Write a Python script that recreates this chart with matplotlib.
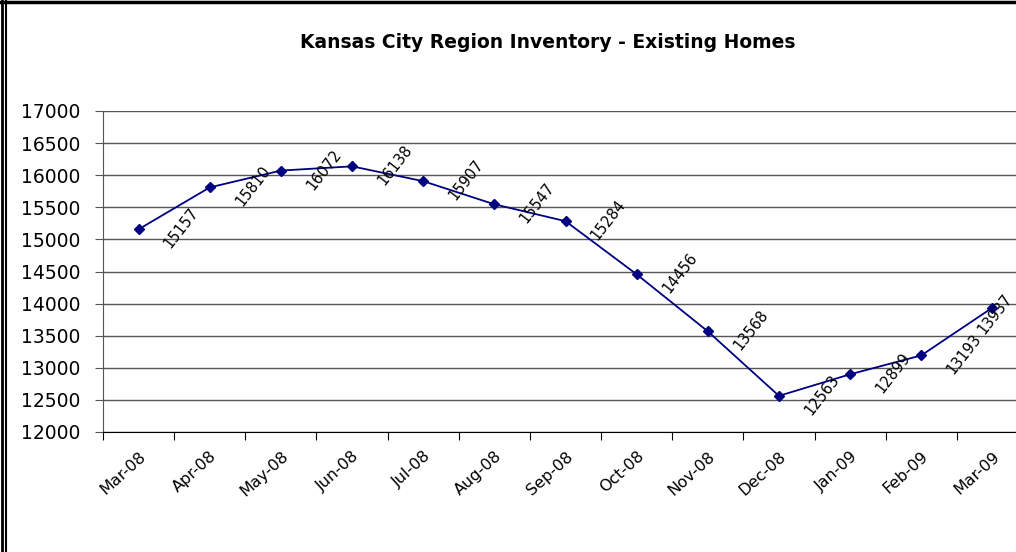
import matplotlib.pyplot as plt
import matplotlib.transforms as mtransforms
from matplotlib.lines import Line2D

plt.rcParams['font.family'] = ['DejaVu Sans']

months = ['Mar-08', 'Apr-08', 'May-08', 'Jun-08', 'Jul-08', 'Aug-08', 'Sep-08',
          'Oct-08', 'Nov-08', 'Dec-08', 'Jan-09', 'Feb-09', 'Mar-09']
inventory = [15157, 15810, 16072, 16138, 15907, 15547, 15284,
             14456, 13568, 12563, 12899, 13193, 13937]
y_ticks = list(range(12000, 17001, 500))

W, H = 1016, 552
fig = plt.figure(figsize=(W / 100, H / 100), dpi=100)
# plot area runs past the right edge of the picture, like the cropped original
left, right, bottom, top = 103, 1028, 432, 111
ax = fig.add_axes([left / W, 1 - bottom / H, (right - left) / W, (bottom - top) / H])

x = list(range(len(months)))
ax.plot(x, inventory, color='#000080', lw=1.3, marker='D', ms=5,
        mfc='#000080', mec='#000080', zorder=3)

for i, v in enumerate(inventory):
    dx, dy = (43, 1) if i < len(months) - 1 else (3, -6)
    ax.annotate(str(v), (i, v), xytext=(dx, dy), textcoords='offset pixels',
                rotation=52, ha='center', va='center', fontsize=10.5, color='black')

ax.set_xlim(-0.5, len(months) - 0.5)
ax.set_ylim(12000, 17000)
ax.set_yticks(y_ticks)
ax.set_yticklabels([str(t) for t in y_ticks], fontsize=13.5)
ax.yaxis.grid(True, color='#555555', lw=1)
ax.set_axisbelow(True)

# category ticks sit between the months, labels at the centres
ax.set_xticks([i - 0.5 for i in range(len(months) + 1)])
ax.set_xticklabels([])
ax.set_xticks(x, minor=True)
ax.set_xticklabels(months, minor=True, rotation=42, ha='right', va='top',
                   rotation_mode='anchor', fontsize=11.5)
shift = mtransforms.ScaledTranslation(-6 / 100, 0, fig.dpi_scale_trans)
for lbl in ax.get_xticklabels(minor=True):
    lbl.set_transform(lbl.get_transform() + shift)
ax.tick_params(axis='x', which='minor', length=0, pad=12)
ax.tick_params(axis='x', which='major', length=6, color='black')
ax.tick_params(axis='y', length=6, pad=10, color='#555555')

for s in ['top', 'right']:
    ax.spines[s].set_visible(False)
ax.spines['left'].set_color('#555555')
ax.spines['bottom'].set_color('black')

fig.text(548 / W, 1 - 43 / H, 'Kansas City Region Inventory - Existing Homes',
         ha='center', va='center', fontsize=13.5, fontweight='bold')

# frame of the original chart
fig.add_artist(Line2D([2 / W, 2 / W], [0, 1], color='black', lw=2))
fig.add_artist(Line2D([6 / W, 6 / W], [0, 1], color='black', lw=1.5))
fig.add_artist(Line2D([0, 1], [1 - 2 / H, 1 - 2 / H], color='black', lw=2.5))

fig.savefig('out.png', dpi=100)
